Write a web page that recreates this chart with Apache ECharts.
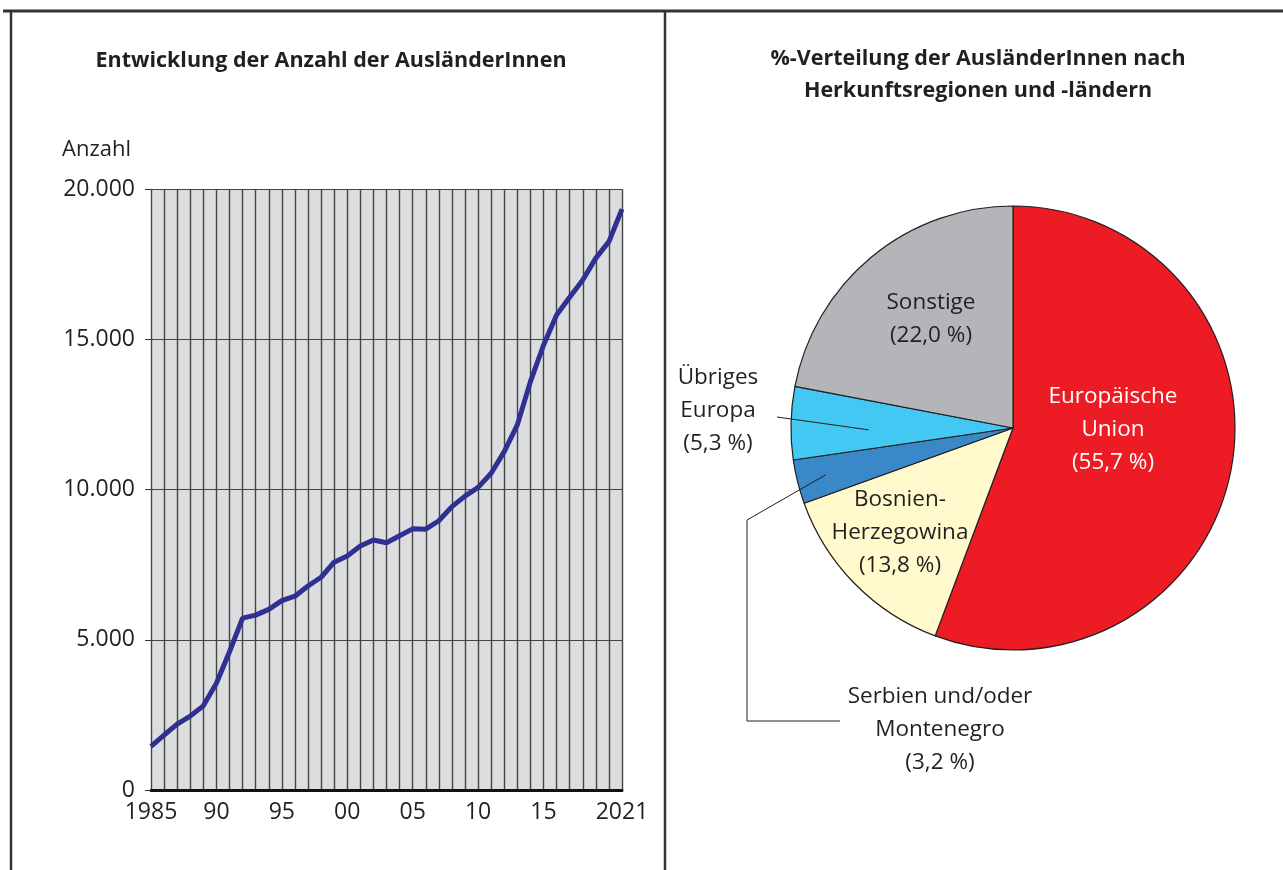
<!DOCTYPE html>
<html>
<head>
<meta charset="utf-8">
<script src="https://cdn.jsdelivr.net/npm/echarts@6/dist/echarts.min.js"></script>
<style>
  html, body { margin: 0; padding: 0; background: #fff; }
  #main { width: 1283px; height: 870px; }
</style>
</head>
<body>
<div id="main"></div>
<script>
// Entwicklung der Anzahl (Jahre 1985 - 2021)
var years = [];
for (var y = 1985; y <= 2021; y++) years.push(String(y));
var anzahl = [
  1450, 1830, 2190, 2460, 2800, 3550, 4600, 5720, 5820, 6010,
  6300, 6450, 6790, 7080, 7580, 7790, 8120, 8320, 8230, 8460,
  8690, 8680, 8960, 9430, 9780, 10070, 10540, 11260, 12150, 13590,
  14800, 15810, 16400, 16970, 17700, 18250, 19330
];
var yTicks = [0, 5000, 10000, 15000, 20000];
// beschriftete Jahre
var xLabelYears = ["1985", "1990", "1995", "2000", "2005", "2010", "2015", "2021"];

// Verteilung nach Herkunft (%)
var regionen = ["Europäische\nUnion", "Bosnien-\nHerzegowina", "Serbien und/oder\nMontenegro", "Übriges\nEuropa", "Sonstige"];
var anteile = [55.7, 13.8, 3.2, 5.3, 22.0];
var farben = ["#ED1C24", "#FFF9CC", "#3A88C8", "#43C8F3", "#B4B5B9"];

// layout
var FONT = "Open Sans";
var TXT = "#231F20";
var pieC = [1013, 428], pieR = 222;
// label centres
var labelPos = [[1113, 430], [900, 533], [940, 730], [718, 411], [931, 319]];

function fmtNum(v) {
  return String(v).replace(/\B(?=(\d{3})+(?!\d))/g, ".");
}
// point on pie: angle clockwise from 12 o'clock (deg), radius fraction
function piePt(a, f) {
  var r = a * Math.PI / 180;
  return [pieC[0] + f * pieR * Math.sin(r), pieC[1] - f * pieR * Math.cos(r)];
}
function midAngle(i) {
  var s = 0;
  for (var k = 0; k < i; k++) s += anteile[k];
  return (s + anteile[i] / 2) / 100 * 360;
}

// Hinweislinien zu den Außenbeschriftungen
var leaderSerbien = [piePt(midAngle(2), 0.87), [747, 520], [747, 721], [840, 721]];
var leaderEuropa = [piePt(midAngle(3) - 2, 0.65), [777, 417]];

var chart = echarts.init(document.getElementById("main"));
chart.setOption({
  animation: false,
  backgroundColor: "#fff",
  graphic: [
    { type: "line", shape: { x1: 3, y1: 11, x2: 1283, y2: 11 }, style: { stroke: "#333", lineWidth: 3 } },
    { type: "line", shape: { x1: 11, y1: 10, x2: 11, y2: 870 }, style: { stroke: "#333", lineWidth: 2.5 } },
    { type: "line", shape: { x1: 665, y1: 10, x2: 665, y2: 870 }, style: { stroke: "#333", lineWidth: 2.5 } },
    { type: "text", x: 331, y: 61, style: { text: "Entwicklung der Anzahl der AusländerInnen", align: "center", verticalAlign: "middle", fill: TXT, font: "bold 21.5px '" + FONT + "'" } },
    { type: "text", x: 978, y: 75, style: { text: "%-Verteilung der AusländerInnen nach\nHerkunftsregionen und -ländern", align: "center", verticalAlign: "middle", fill: TXT, font: "bold 21.5px '" + FONT + "'", lineHeight: 32 } },
    { type: "text", x: 131, y: 150, style: { text: "Anzahl", align: "right", verticalAlign: "middle", fill: TXT, font: "22px '" + FONT + "'" } },
    { type: "polyline", z: 100, shape: { points: leaderSerbien }, style: { stroke: TXT, lineWidth: 1, fill: null } },
    { type: "polyline", z: 100, shape: { points: leaderEuropa }, style: { stroke: TXT, lineWidth: 1, fill: null } }
  ],
  grid: {
    left: 151, right: 661, top: 189, bottom: 80,
    show: true, backgroundColor: "#DCDDDF", borderWidth: 0
  },
  xAxis: {
    type: "category",
    data: years,
    boundaryGap: false,
    axisLine: { show: true, lineStyle: { color: "#111", width: 3 } },
    axisTick: { show: false },
    splitLine: { show: true, interval: 0, lineStyle: { color: "#444", width: 1.4 } },
    axisLabel: {
      interval: function (i, v) { return xLabelYears.indexOf(v) >= 0; },
      formatter: function (v) { return (v === years[0] || v === years[years.length - 1]) ? v : v.slice(2); },
      color: TXT, fontFamily: FONT, fontSize: 23, margin: 11
    }
  },
  yAxis: {
    type: "value",
    min: yTicks[0], max: yTicks[yTicks.length - 1], interval: 5000,
    axisLine: { show: false },
    axisTick: { show: true, length: 6, lineStyle: { color: "#333" } },
    splitLine: { show: true, lineStyle: { color: "#444", width: 1.2 } },
    axisLabel: { formatter: fmtNum, color: TXT, fontFamily: FONT, fontSize: 23, margin: 16 }
  },
  series: [
    {
      type: "line",
      data: anzahl,
      showSymbol: false,
      lineStyle: { color: "#2E3192", width: 5 },
      z: 5
    },
    {
      type: "pie",
      center: pieC,
      radius: pieR,
      startAngle: 90,
      clockwise: true,
      silent: true,
      itemStyle: { borderColor: TXT, borderWidth: 1.2 },
      label: {
        show: true,
        position: "inside",
        color: TXT,
        fontFamily: FONT,
        fontSize: 22.5,
        lineHeight: 33,
        align: "center",
        formatter: function (p) {
          return p.name + "\n(" + p.value.toFixed(1).replace(".", ",") + " %)";
        }
      },
      labelLine: { show: false },
      labelLayout: function (p) {
        var i = p.dataIndex;
        return { x: labelPos[i][0], y: labelPos[i][1], align: "center", verticalAlign: "middle" };
      },
      data: regionen.map(function (n, i) {
        var d = { name: n, value: anteile[i], itemStyle: { color: farben[i] } };
        if (i === 0) d.label = { color: "#fff" };
        return d;
      })
    }
  ]
});
</script>
</body>
</html>
